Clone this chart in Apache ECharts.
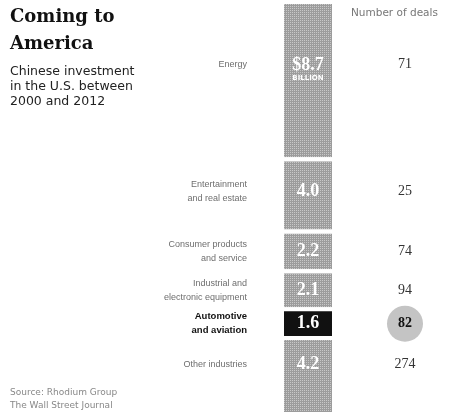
<!DOCTYPE html>
<html>
<head>
<meta charset="utf-8">
<script src="https://cdn.jsdelivr.net/npm/echarts@6/dist/echarts.min.js"></script>
<style>
html,body{margin:0;padding:0;background:#fff;}
#chart{width:449px;height:416px;}
</style>
</head>
<body>
<div id="chart"></div>
<script>
// ---- data ----
const categories = ['Energy', 'Entertainment\nand real estate', 'Consumer products\nand service', 'Industrial and\nelectronic equipment', 'Automotive\nand aviation', 'Other industries'];
const investment = [8.7, 4.0, 2.2, 2.1, 1.6, 4.2]; // $ billion
const valueLabels = ['$8.7', '4.0', '2.2', '2.1', '1.6', '4.2'];
const deals = [71, 25, 74, 94, 82, 274];
const highlightIndex = 4;

// ---- styles ----
const GREY = '#9c9c9c';
const DARK = '#111111';
const NUDGE = [-16, -4, 0, 0, 0, -12];

const total = investment.reduce((a, b) => a + b, 0);
const series = [];
investment.forEach((v, i) => {
  const hl = i === highlightIndex;
  const itemStyle = { color: hl ? DARK : GREY, borderColor: '#fff', borderWidth: 2 };
  if (!hl) {
    itemStyle.decal = { symbol: 'rect', symbolSize: 1, color: 'rgba(255,255,255,0.45)', dashArrayX: [1, 1], dashArrayY: [1, 1], rotation: 0 };
  }
  series.push({
    type: 'bar', stack: 'bar', name: categories[i], barWidth: 52, barGap: '-100%',
    data: [v],
    itemStyle: itemStyle,
    label: {
      show: true, position: 'inside', offset: [0, NUDGE[i] + (i === 0 ? 6 : 0)],
      formatter: i === 0 ? '{big|' + valueLabels[i] + '}\n{small|BILLION}' : valueLabels[i],
      color: '#fff', fontFamily: 'Liberation Serif', fontWeight: 'bold', fontSize: 18,
      rich: {
        big: { color: '#fff', fontFamily: 'Liberation Serif', fontWeight: 'bold', fontSize: 18, lineHeight: 15 },
        small: { color: '#fff', fontFamily: 'DejaVu Sans', fontWeight: 'bold', fontSize: 7, lineHeight: 11 }
      }
    }
  });
  series.push({
    type: 'bar', stack: 'cat', barWidth: 52, barGap: '-100%', silent: true,
    data: [v],
    itemStyle: { color: 'rgba(0,0,0,0)' },
    label: {
      show: true, position: 'left', distance: 35, offset: [0, NUDGE[i]],
      formatter: categories[i], align: 'right',
      fontFamily: 'Liberation Sans', fontSize: hl ? 9.5 : 9, lineHeight: 14,
      color: hl ? '#111' : '#6e6e6e', fontWeight: hl ? 'bold' : 'normal'
    }
  });
  series.push({
    type: 'bar', stack: 'deal', barWidth: 52, barGap: '-100%', silent: true,
    data: [v],
    itemStyle: { color: 'rgba(0,0,0,0)' },
    label: {
      show: true, position: 'right', distance: 71, offset: [0, NUDGE[i]],
      align: 'center',
      formatter: hl ? '{c|' + deals[i] + '}' : String(deals[i]),
      fontFamily: 'Liberation Serif', fontSize: 14, color: '#333',
      rich: {
        c: { width: 36, height: 36, borderRadius: 18, backgroundColor: '#c4c4c4', align: 'center',
             fontFamily: 'Liberation Serif', fontWeight: 'bold', fontSize: 14, color: '#111' }
      }
    }
  });
});

const option = {
  animation: false,
  backgroundColor: '#fff',
  aria: { enabled: false, decal: { show: false } },
  title: [
    { text: 'Coming to\nAmerica', left: 10, top: 4, padding: 0,
      textStyle: { fontFamily: 'DejaVu Serif', fontWeight: 'bold', fontSize: 18, lineHeight: 27, color: '#111' } },
    { text: 'Chinese investment\nin the U.S. between\n2000 and 2012', left: 10, top: 64, padding: 0,
      textStyle: { fontFamily: 'DejaVu Sans', fontWeight: 'normal', fontSize: 12.5, lineHeight: 15, color: '#222' } },
    { text: 'Number of deals', left: 351, top: 8, padding: 0,
      textStyle: { fontFamily: 'DejaVu Sans', fontWeight: 'normal', fontSize: 10.5, color: '#777' } },
    { text: 'Source: Rhodium Group\nThe Wall Street Journal', left: 10, top: 386, padding: 0,
      textStyle: { fontFamily: 'DejaVu Sans', fontWeight: 'normal', fontSize: 9, lineHeight: 13, color: '#888' } }
  ],
  grid: { left: 260, right: 93, top: 2, bottom: 2 },
  xAxis: { type: 'category', data: ['Investment'], show: false },
  yAxis: { type: 'value', inverse: true, min: 0, max: total, show: false },
  series: series
};

const chart = echarts.init(document.getElementById('chart'), null, { renderer: 'canvas' });
chart.setOption(option);
</script>
</body>
</html>
